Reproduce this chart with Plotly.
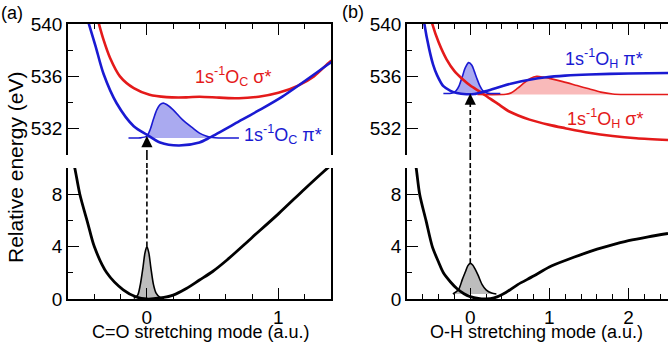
import plotly.graph_objects as go

# ---------------- Panel (a): C=O stretching ----------------
a_gs_x = [-0.56, -0.545, -0.51, -0.45, -0.40, -0.305, -0.18, -0.08, 0.0, 0.1, 0.2, 0.3, 0.4, 0.5, 0.6, 0.8, 1.0, 1.2, 1.33, 1.42]
a_gs_y = [10.5, 9.83, 8.0, 5.8, 4.0, 2.0, 0.7, 0.15, 0.0, 0.08, 0.3, 0.8, 1.45, 2.1, 2.9, 4.7, 6.5, 8.4, 9.6, 10.4]

a_gwp_x = [-0.10, -0.07, -0.05, -0.03, -0.015, 0.0, 0.015, 0.03, 0.05, 0.07, 0.10, 0.13]
a_gwp_y = [0.05, 0.3, 1.1, 2.4, 3.5, 4.0, 3.5, 2.4, 1.1, 0.45, 0.12, 0.05]

a_pi_x = [-0.45, -0.39, -0.33, -0.23, -0.10, 0.0, 0.10, 0.24, 0.40, 0.48, 0.70, 0.85, 1.03, 1.39, 1.42]
a_pi_y = [540.3, 538.3, 536.2, 533.95, 532.2, 531.55, 530.96, 530.73, 530.96, 531.34, 532.56, 533.4, 534.46, 537.0, 537.2]

a_sig_x = [-0.37, -0.33, -0.28, -0.205, -0.10, 0.02, 0.15, 0.30, 0.40, 0.55, 0.70, 0.85, 1.00, 1.15, 1.27, 1.39, 1.42]
a_sig_y = [540.2, 538.8, 537.4, 536.0, 535.1, 534.6, 534.42, 534.4, 534.45, 534.38, 534.33, 534.45, 534.75, 535.3, 536.0, 537.1, 537.3]

a_wp_x = [-0.14, -0.05, 0.0, 0.025, 0.05, 0.075, 0.10, 0.125, 0.15, 0.20, 0.27, 0.35, 0.40, 0.45, 0.50, 0.55, 0.70]
a_wp_y = [531.3, 531.31, 531.45, 531.95, 532.75, 533.45, 533.85, 533.96, 533.85, 533.45, 532.7, 532.05, 531.67, 531.45, 531.33, 531.3, 531.3]

a_arrow_x = 0.0
a_arrow_from = 4.0      # top of ground-state wavepacket
a_arrow_to = 531.45     # crossing with core-excited pi* curve

# ---------------- Panel (b): O-H stretching ----------------
b_gs_x = [-0.70, -0.68, -0.64, -0.56, -0.48, -0.40, -0.34, -0.25, -0.17, -0.08, 0.0, 0.1, 0.2, 0.3, 0.45, 0.6, 0.8, 1.0, 1.25, 1.5, 1.75, 2.0, 2.25, 2.5]
b_gs_y = [10.6, 9.83, 8.0, 6.0, 4.0, 2.8, 2.0, 1.3, 0.8, 0.4, 0.18, 0.04, 0.0, 0.08, 0.5, 1.1, 1.75, 2.45, 3.05, 3.6, 4.05, 4.45, 4.75, 5.0]

b_gwp_x = [-0.22, -0.15, -0.10, -0.06, -0.03, 0.0, 0.03, 0.06, 0.10, 0.15, 0.20, 0.27, 0.33]
b_gwp_y = [0.38, 0.7, 1.5, 2.1, 2.55, 2.72, 2.6, 2.3, 1.8, 1.1, 0.7, 0.45, 0.38]

b_pi_x = [-0.60, -0.58, -0.52, -0.47, -0.42, -0.34, -0.25, -0.17, -0.05, 0.05, 0.15, 0.25, 0.40, 0.54, 0.75, 0.96, 1.2, 1.5, 2.0, 2.5]
b_pi_y = [541.0, 540.0, 538.1, 536.9, 536.1, 535.25, 534.9, 534.73, 534.64, 534.66, 534.8, 534.97, 535.25, 535.48, 535.75, 535.94, 536.06, 536.15, 536.22, 536.26]

b_sig_x = [-0.50, -0.48, -0.40, -0.30, -0.20, -0.10, 0.0, 0.13, 0.25, 0.35, 0.50, 0.75, 1.0, 1.2, 1.5, 1.8, 2.1, 2.5]
b_sig_y = [540.5, 540.0, 538.6, 537.3, 536.4, 535.8, 535.3, 534.8, 534.3, 533.9, 533.3, 532.7, 532.3, 532.05, 531.7, 531.45, 531.28, 531.15]

b_wpi_x = [-0.34, -0.26, -0.22, -0.18, -0.14, -0.10, -0.06, -0.02, 0.02, 0.05, 0.08, 0.12, 0.16, 0.20, 0.25, 0.38]
b_wpi_y = [534.7, 534.7, 534.75, 534.9, 535.3, 536.0, 536.7, 537.05, 536.85, 536.4, 535.9, 535.3, 534.9, 534.75, 534.7, 534.7]

b_wsig_x = [0.09, 0.45, 0.52, 0.60, 0.68, 0.76, 0.84, 0.92, 1.00, 1.17, 1.35, 1.50, 1.65, 1.80, 1.95, 2.5]
b_wsig_y = [534.62, 534.64, 534.75, 535.1, 535.5, 535.85, 536.0, 535.95, 535.85, 535.6, 535.3, 535.05, 534.8, 534.66, 534.62, 534.62]

b_arrow_x = 0.0
b_arrow_from = 2.72
b_arrow_to = 534.7

# tick labels
a_xticks = [0, 1]
b_xticks = [0, 1, 2]

# ---------------- styling ----------------
W, H = 668, 344
RED = "#e41a1a"
BLUE = "#1a1ad2"
BLUE_FILL = "#aaaaf0"
RED_FILL = "#f9baba"
GRAY_FILL = "#bdbdbd"
FONT = "Liberation Sans, Arial, Helvetica, sans-serif"

def px(v):
    return v / W

def py(v):
    return 1 - v / H

top_dom = [py(155), py(24)]
bot_dom = [py(299), py(168)]
a_dom = [px(68), px(331)]
b_dom = [px(407), 1.0]

fig = go.Figure()

def wp(x, y, xa, ya, line, fill):
    fig.add_trace(go.Scatter(x=x, y=y, xaxis=xa, yaxis=ya, mode="lines",
                             line=dict(color=line, width=1.6, shape="spline", smoothing=0.8),
                             fill="toself", fillcolor=fill, hoverinfo="skip"))

def curve(x, y, xa, ya, color, width=2.6):
    fig.add_trace(go.Scatter(x=x, y=y, xaxis=xa, yaxis=ya, mode="lines",
                             line=dict(color=color, width=width, shape="spline", smoothing=0.8),
                             hoverinfo="skip"))

# panel a top
wp(a_wp_x, a_wp_y, "x", "y", BLUE, BLUE_FILL)
curve(a_sig_x, a_sig_y, "x", "y", RED)
curve(a_pi_x, a_pi_y, "x", "y", BLUE)
# panel a bottom
wp(a_gwp_x, a_gwp_y, "x2", "y2", "black", GRAY_FILL)
curve(a_gs_x, a_gs_y, "x2", "y2", "black", 2.8)
# panel b top
wp(b_wsig_x, b_wsig_y, "x3", "y3", RED, RED_FILL)
wp(b_wpi_x, b_wpi_y, "x3", "y3", BLUE, BLUE_FILL)
curve(b_sig_x, b_sig_y, "x3", "y3", RED)
curve(b_pi_x, b_pi_y, "x3", "y3", BLUE)
# panel b bottom
wp(b_gwp_x, b_gwp_y, "x4", "y4", "black", GRAY_FILL)
curve(b_gs_x, b_gs_y, "x4", "y4", "black", 2.8)

DASH = "5px,3px"
# dashed excitation arrows (lower part, upper part, gap between panels)
for xv, y_from, y_to, xb, yb, xt, yt in [
    (a_arrow_x, a_arrow_from, a_arrow_to, "x2", "y2", "x", "y"),
    (b_arrow_x, b_arrow_from, b_arrow_to, "x4", "y4", "x3", "y3"),
]:
    fig.add_trace(go.Scatter(x=[xv, xv], y=[y_from, 10], xaxis=xb, yaxis=yb, mode="lines",
                             line=dict(color="black", width=1.6, dash=DASH), hoverinfo="skip"))
    fig.add_trace(go.Scatter(x=[xv, xv], y=[530, y_to - 0.6], xaxis=xt, yaxis=yt, mode="lines",
                             line=dict(color="black", width=1.6, dash=DASH), hoverinfo="skip"))
    fig.add_shape(type="line", xref=xt, yref="paper", x0=xv, x1=xv,
                  y0=bot_dom[1], y1=top_dom[0],
                  line=dict(color="black", width=1.6, dash=DASH))
    fig.add_annotation(x=xv, y=y_to, xref=xt, yref=yt, ax=0, ay=10, axref="pixel", ayref="pixel",
                       text="", showarrow=True, arrowhead=2, arrowsize=1.4, arrowwidth=1.6,
                       arrowcolor="black", standoff=0)

axis_common = dict(showline=True, linecolor="black", linewidth=1.5, ticks="inside",
                   ticklen=11, tickwidth=1.4, tickcolor="black", showgrid=False, zeroline=False,
                   automargin=False,
                   tickfont=dict(family=FONT, size=19, color="black"))
xminor = dict(ticks="inside", ticklen=5, tickwidth=1.4, tickcolor="black", dtick=0.2, tick0=0, showgrid=False)
ytop_minor = dict(ticks="inside", ticklen=5, tickwidth=1.4, tickcolor="black", dtick=2, tick0=0, showgrid=False)

fig.update_layout(
    template="none",
    width=W, height=H, margin=dict(l=0, r=0, t=0, b=0, pad=0),
    paper_bgcolor="white", plot_bgcolor="white", showlegend=False,
    font=dict(family=FONT, size=18, color="black"),
    xaxis=dict(domain=a_dom, range=[-0.6, 1.4], anchor="y", side="top", showticklabels=False,
               dtick=1, tick0=0, minor=xminor, **axis_common),
    yaxis=dict(domain=top_dom, range=[530, 540], anchor="x", mirror=True, dtick=4, tick0=0,
               minor=ytop_minor, **axis_common),
    xaxis2=dict(domain=a_dom, range=[-0.6, 1.4], anchor="y2", tickvals=a_xticks,
                ticktext=[str(v) for v in a_xticks], minor=xminor, **axis_common),
    yaxis2=dict(domain=bot_dom, range=[0, 10], anchor="x2", mirror=True, dtick=4, tick0=0,
                minor=ytop_minor, **axis_common),
    xaxis3=dict(domain=b_dom, range=[-0.8, 2.5], anchor="y3", side="top", showticklabels=False,
                dtick=1, tick0=0, minor=xminor, **axis_common),
    yaxis3=dict(domain=top_dom, range=[530, 540], anchor="x3", dtick=4, tick0=0,
                minor=ytop_minor, **axis_common),
    xaxis4=dict(domain=b_dom, range=[-0.8, 2.5], anchor="y4", tickvals=b_xticks,
                ticktext=[str(v) for v in b_xticks], minor=xminor, **axis_common),
    yaxis4=dict(domain=bot_dom, range=[0, 10], anchor="x4", dtick=4, tick0=0,
                minor=ytop_minor, **axis_common),
)

def label(text, x, y, color, size=18, angle=0, xanchor="center", yanchor="middle"):
    fig.add_annotation(text=text, x=x, y=y, xref="paper", yref="paper", showarrow=False,
                       font=dict(family=FONT, size=size, color=color), textangle=angle,
                       xanchor=xanchor, yanchor=yanchor)

label("(a)", px(12), py(13), "black", 18)
label("(b)", px(353), py(12), "black", 18)
label("Relative energy (eV)", px(15), py(168), "black", 21, angle=-90)
label("C=O stretching mode (a.u.)", px(201), py(332), "black", 18)
label("O-H stretching mode (a.u.)", px(536), py(332), "black", 18)

label("1s<sup>-1</sup>O<sub>C</sub> σ*", px(193), py(77), RED, 18, xanchor="left")
label("1s<sup>-1</sup>O<sub>C</sub> π*", px(242), py(134), BLUE, 18, xanchor="left")
label("1s<sup>-1</sup>O<sub>H</sub> π*", px(563), py(59), BLUE, 18, xanchor="left")
label("1s<sup>-1</sup>O<sub>H</sub> σ*", px(565), py(119), RED, 18, xanchor="left")

fig.write_html(
    "out.html",
    config={"displayModeBar": False},
    post_script="document.body.style.margin='0';document.body.style.overflow='hidden';",
)
